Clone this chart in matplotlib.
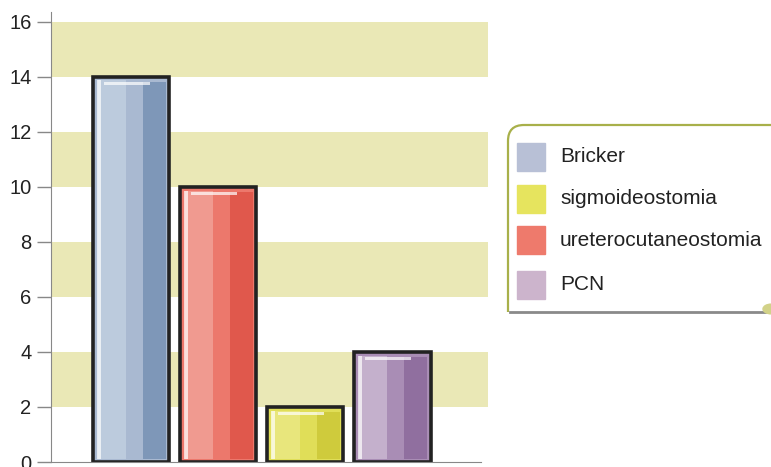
import matplotlib
matplotlib.use("Agg")
import matplotlib.pyplot as plt
import numpy as np
from matplotlib.patches import Rectangle, Circle, PathPatch
from matplotlib.path import Path

plt.rcParams['font.family'] = ['Liberation Sans', 'DejaVu Sans']

# data (bar order as drawn)
bar_labels = ["Bricker", "ureterocutaneostomia", "sigmoideostomia", "PCN"]
bar_values = [14, 10, 2, 4]
bar_base = ["#a9b9d1", "#ec786c", "#e0de58", "#a98db5"]
bar_dark = ["#7e97b8", "#e0584c", "#cfcb3c", "#906f9f"]
bar_light = ["#bccbdd", "#f09a90", "#e8e67c", "#c4b0cc"]

# legend order
legend_labels = ["Bricker", "sigmoideostomia", "ureterocutaneostomia", "PCN"]
legend_colors = ["#b8c0d6", "#e6e45e", "#ee7a6c", "#ccb4cc"]

y_ticks = [0, 2, 4, 6, 8, 10, 12, 14, 16]
bands = [(2, 4), (6, 8), (10, 12), (14, 16)]

W, H = 771, 467
fig = plt.figure(figsize=(W / 100, H / 100), dpi=100)
ax = fig.add_axes([51 / W, 5 / H, 437 / W, 450 / H])
ax.set_xlim(-0.92, 4.10)
ax.set_ylim(0, 16.36)

band_col = "#eae8b6"
for lo, hi in bands:
    ax.axhspan(lo, hi, color=band_col, lw=0, zorder=0)

x = np.arange(len(bar_values))
vals = np.array(bar_values, dtype=float)
bw = 0.88
ax.bar(x, vals, width=bw, color=bar_base, edgecolor="#222222", linewidth=2.6, zorder=2)
# glossy layers
ax.bar(x - 0.22, vals - 0.25, bottom=0.12, width=0.32, color=bar_light, lw=0, zorder=3)
ax.bar(x + 0.27, vals - 0.3, bottom=0.1, width=0.26, color=bar_dark, lw=0, zorder=3)
ax.bar(x - 0.37, vals - 0.25, bottom=0.12, width=0.04, color="white", alpha=0.7, lw=0, zorder=4)
ax.bar(x - 0.05, np.full(len(vals), 0.1), bottom=vals - 0.28, width=bw * 0.6, color="white", alpha=0.7, lw=0, zorder=4)

ax.set_xticks([])
ax.set_yticks(y_ticks)
ax.set_yticklabels([str(t) for t in y_ticks], fontsize=14.5, color="#222222")
ax.tick_params(axis="y", length=10, width=1, color="#888888", pad=4)
for s in ["top", "right"]:
    ax.spines[s].set_visible(False)
ax.spines["left"].set_color("#888888")
ax.spines["bottom"].set_color("#888888")
ax.spines["bottom"].set_bounds(-0.92, 4.02)

# legend frame
def fx(px):
    return px / W

def fy(py):
    return 1 - py / H

r = 16
verts = [(fx(508), fy(312)), (fx(508), fy(125 + r)),
         (fx(508), fy(125)), (fx(508 + r), fy(125)),
         (fx(771), fy(125))]
codes = [Path.MOVETO, Path.LINETO, Path.CURVE3, Path.CURVE3, Path.LINETO]
fig.patches.append(PathPatch(Path(verts, codes), transform=fig.transFigure,
                             fill=False, edgecolor="#a8b04a", lw=1.6))
fig.lines.append(plt.Line2D([fx(510), fx(768)], [fy(312), fy(312)],
                            transform=fig.transFigure, color="#8a8a8a", lw=2))
fig.patches.append(Circle((fx(771), fy(309)), 8 / W, transform=fig.transFigure,
                          color="#d2d288", zorder=5))

row_y = [157, 199, 240, 285]
for lab, col, yy in zip(legend_labels, legend_colors, row_y):
    fig.patches.append(Rectangle((fx(517), fy(yy + 14)), 28 / W, 28 / H,
                                 transform=fig.transFigure, color=col))
    fig.text(fx(560), fy(yy), lab, fontsize=15, color="#222222",
             va="center", ha="left")

fig.savefig("out.png", dpi=100)
